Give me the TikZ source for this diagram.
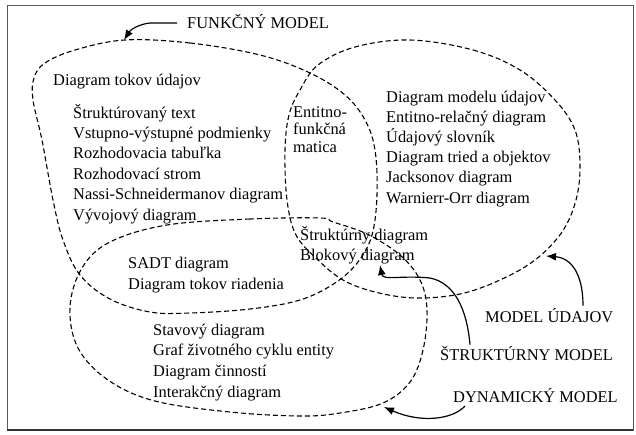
\documentclass[tikz,border=0pt]{standalone}
\usepackage{fontspec}
\setmainfont{Liberation Serif}
\usetikzlibrary{arrows.meta}
\tikzset{
  item/.style={anchor=base west, inner sep=0pt, font=\fontsize{16.4}{19}\selectfont},
  blob/.style={dash pattern=on 5pt off 3pt, line width=1.1pt},
  pointer/.style={line width=1.2pt, -{Latex[length=10pt,width=8pt]}},
}
\begin{document}
\begin{tikzpicture}[x=1pt,y=-1pt]
  \useasboundingbox (0,0) rectangle (636,434);
  \draw[gray!70!black, line width=0.8pt] (7,5) rectangle (633,430);
  \draw[gray!40!black, line width=2.5pt] (7,430) -- (633,430);

  % funkcny model
  \draw[blob] plot[smooth cycle, tension=.6] coordinates {
    (125,40) (190,43) (260,55) (310,73) (345,95) (365,120) (375,150)
    (377,195) (372,235) (358,262) (335,283) (300,300) (250,309) (190,313)
    (150,312) (110,299) (80,275) (63,240) (53,200) (42,140) (33,100)
    (34,78) (45,63) (75,50)};
  % model udajov
  \draw[blob] plot[smooth cycle, tension=.6] coordinates {
    (410,40) (473,50) (520,70) (555,100) (575,130) (580,165) (576,200)
    (562,232) (535,260) (500,280) (460,294) (415,298) (375,292) (343,280)
    (318,260) (296,235) (287,200) (285,150) (289,115) (300,90) (318,65)
    (355,47)};
  % dynamicky model
  \draw[blob] plot[smooth cycle, tension=.6] coordinates {
    (320,218) (250,219) (167,225) (110,242) (82,268) (70,307) (78,348)
    (108,380) (155,401) (230,412) (300,416) (340,413) (383,403) (410,382)
    (423,350) (427,310) (420,280) (400,255) (367,234) (333,222)};

  \node[item] (dtu) at (53,85) {Diagram tokov údajov};
  \foreach \t [count=\i] in {Štruktúrovaný text, Vstupno-výstupné podmienky,
      Rozhodovacia tabuľka, Rozhodovací strom, Nassi-Schneidermanov diagram,
      Vývojový diagram}
    \node[item] (fn\i) at (73,{118+20.4*(\i-1)}) {\t};

  \foreach \t [count=\i] in {Entitno-, funkčná, matica}
    \node[item] (efm\i) at (293,{117+17.5*(\i-1)}) {\t};

  \foreach \t [count=\i] in {Diagram modelu údajov, Entitno-relačný diagram,
      Údajový slovník, Diagram tried a objektov, Jacksonov diagram,
      Warnierr-Orr diagram}
    \node[item] (du\i) at (386,{102+20.2*(\i-1)}) {\t};

  \node[item] (sadt) at (128,268) {SADT diagram};
  \node[item] (dtr) at (128,289) {Diagram tokov riadenia};
  \node[item] (sd) at (300,240) {Štruktúrny diagram};
  \node[item] (bd) at (300,260) {Blokový diagram};

  \foreach \t [count=\i] in {Stavový diagram, Graf životného cyklu entity,
      Diagram činností, Interakčný diagram}
    \node[item] (dyn\i) at (153,{335+20.7*(\i-1)}) {\t};

  \node[item] (fmlabel) at (187,28) {FUNKČNÝ MODEL};
  \node[item] (dulabel) at (485,322) {MODEL ÚDAJOV};
  \node[item] (smlabel) at (440,360) {ŠTRUKTÚRNY MODEL};
  \node[item] (dmlabel) at (453,402) {DYNAMICKÝ MODEL};

  \coordinate (fmtip) at (124,40);
  \coordinate (dutip) at (546,256);
  \coordinate (smtip) at (380,265);
  \coordinate (dmtip) at (384,407);

  \draw[pointer] ([xshift=-10pt,yshift=5pt]fmlabel.base west) -- (150,23)
    .. controls (140,24) and (131,29) .. (fmtip);
  \draw[pointer] ([xshift=98pt,yshift=2pt]dulabel.north west)
    .. controls (583,275) and (572,258) .. (dutip);
  \draw[pointer] ([xshift=30pt,yshift=1pt]smlabel.north west)
    .. controls (467,310) and (455,283) .. (430,278)
    .. controls (400,275) and (383,281) .. (smtip);
  \draw[pointer] ([xshift=12pt,yshift=-4pt]dmlabel.base west)
    .. controls (452,420) and (420,423) .. (dmtip);
\end{tikzpicture}
\end{document}
